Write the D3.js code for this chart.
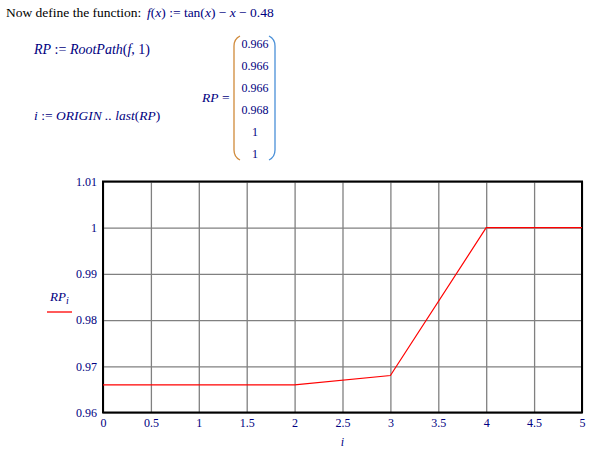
<!DOCTYPE html>
<html>
<head>
<meta charset="utf-8">
<script src="https://cdn.jsdelivr.net/npm/d3@7"></script>
<style>
  body { margin: 0; background: #fff; }
  svg { display: block; font-family: "Liberation Serif", "Times New Roman", serif; }
  .axis .domain { display: none; }
  .axis line { stroke: #808080; stroke-width: 1.3; }
  .axis text { fill: #000080; font-size: 12px; font-family: "Liberation Serif", serif; }
</style>
</head>
<body>
<svg width="599" height="451"></svg>
<script>
var idx = [0, 1, 2, 3, 4, 5];
var rp = [0.966, 0.966, 0.966, 0.968, 1, 1];
var rpLabels = ["0.966", "0.966", "0.966", "0.968", "1", "1"];
var xTicks = [0, 0.5, 1, 1.5, 2, 2.5, 3, 3.5, 4, 4.5, 5];
var yTicks = [0.96, 0.97, 0.98, 0.99, 1, 1.01];

var svg = d3.select("svg"),
    margin = {top: 181.5, right: 17, bottom: 38.5, left: 103},
    width = +svg.attr("width") - margin.left - margin.right,
    height = +svg.attr("height") - margin.top - margin.bottom;

var navy = "#000080";

// --- worksheet text above the plot ---
var head = svg.append("text").attr("x", 6).attr("y", 17).style("font-size", "13.5px");
head.append("tspan").attr("fill", "#000").text("Now define the function:  ");
var fx = svg.append("text").attr("x", 147).attr("y", 17).attr("fill", navy).style("font-size", "13.5px");
fx.append("tspan").style("font-style", "italic").text("f");
fx.append("tspan").text("(");
fx.append("tspan").style("font-style", "italic").text("x");
fx.append("tspan").text(") := tan(");
fx.append("tspan").style("font-style", "italic").text("x");
fx.append("tspan").text(") \u2212 ");
fx.append("tspan").style("font-style", "italic").text("x");
fx.append("tspan").text(" \u2212 0.48");

var l1 = svg.append("text").attr("x", 34).attr("y", 54).attr("fill", navy).style("font-size", "14px");
l1.append("tspan").style("font-style", "italic").text("RP");
l1.append("tspan").text(" := ");
l1.append("tspan").style("font-style", "italic").text("RootPath");
l1.append("tspan").text("(");
l1.append("tspan").style("font-style", "italic").text("f");
l1.append("tspan").text(", 1)");

var l2 = svg.append("text").attr("x", 34).attr("y", 120).attr("fill", navy).style("font-size", "13.5px");
l2.append("tspan").style("font-style", "italic").text("i");
l2.append("tspan").text(" := ");
l2.append("tspan").style("font-style", "italic").text("ORIGIN .. last");
l2.append("tspan").text("(");
l2.append("tspan").style("font-style", "italic").text("RP");
l2.append("tspan").text(")");

var l3 = svg.append("text").attr("x", 202).attr("y", 102).attr("fill", navy).style("font-size", "13.5px");
l3.append("tspan").style("font-style", "italic").text("RP");
l3.append("tspan").text(" =");

// matrix values
svg.selectAll(".mval")
    .data(rpLabels)
    .enter().append("text")
    .attr("class", "mval")
    .attr("x", 255)
    .attr("y", function(d, i) { return 48 + i * 22; })
    .attr("text-anchor", "middle")
    .attr("fill", navy)
    .style("font-size", "12px")
    .text(function(d) { return d; });

// matrix brackets
svg.append("path")
    .attr("d", "M240,36 Q234,39 234,46 L234,150 Q234,157 240,160")
    .attr("fill", "none").attr("stroke", "#d08a3a").attr("stroke-width", 1.3);
svg.append("path")
    .attr("d", "M269,36 Q275,39 275,46 L275,150 Q275,157 269,160")
    .attr("fill", "none").attr("stroke", "#4a90d8").attr("stroke-width", 1.3);

// --- plot ---
var g = svg.append("g").attr("transform", "translate(" + margin.left + "," + margin.top + ")");

var x = d3.scaleLinear().domain([0, 5]).range([0, width]),
    y = d3.scaleLinear().domain([0.96, 1.01]).range([height, 0]);

g.append("g")
    .attr("class", "axis axis-x")
    .attr("transform", "translate(0," + height + ")")
    .call(d3.axisBottom(x).tickValues(xTicks).tickSize(-height).tickPadding(6)
        .tickFormat(function(d) { return String(d); }));

g.append("g")
    .attr("class", "axis axis-y")
    .call(d3.axisLeft(y).tickValues(yTicks).tickSize(-width).tickPadding(6)
        .tickFormat(function(d) { return String(+d.toFixed(2)); }));

// plot frame
g.append("rect")
    .attr("width", width).attr("height", height)
    .attr("fill", "none").attr("stroke", "#000").attr("stroke-width", 2);

var line = d3.line()
    .x(function(d, i) { return x(idx[i]); })
    .y(function(d) { return y(d); });

g.append("path")
    .datum(rp)
    .attr("d", line)
    .attr("fill", "none")
    .attr("stroke", "#ff0000")
    .attr("stroke-width", 1.2);

// axis title
svg.append("text")
    .attr("x", margin.left + width / 2).attr("y", 446)
    .attr("text-anchor", "middle").attr("fill", navy)
    .style("font-size", "12px").style("font-style", "italic")
    .text("i");

// legend / y title
var yt = svg.append("text").attr("x", 50).attr("y", 301).attr("fill", navy)
    .style("font-size", "13px").style("font-style", "italic");
yt.append("tspan").text("RP");
yt.append("tspan").attr("dy", 3).style("font-size", "10px").text("i");
svg.append("line")
    .attr("x1", 47).attr("x2", 72).attr("y1", 312).attr("y2", 312)
    .attr("stroke", "#ff0000").attr("stroke-width", 1.3);
</script>
</body>
</html>
